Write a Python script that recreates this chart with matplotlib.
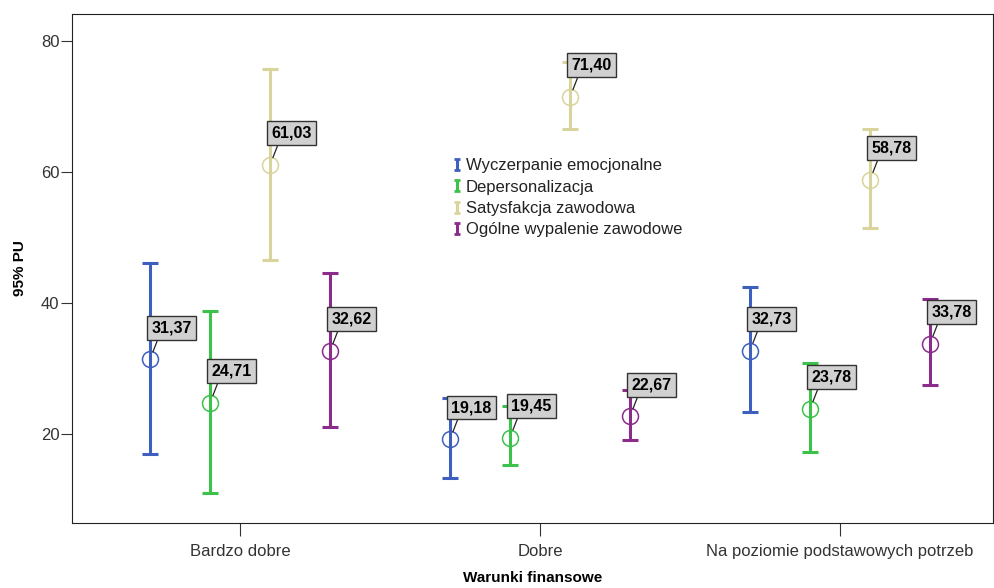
import matplotlib
matplotlib.use("Agg")
import matplotlib.pyplot as plt
from matplotlib.legend_handler import HandlerErrorbar
import numpy as np

plt.rcParams['font.family'] = ['Liberation Sans', 'DejaVu Sans']

# categories (x axis)
categories = ["Bardzo dobre", "Dobre", "Na poziomie podstawowych potrzeb"]
series = ["Wyczerpanie emocjonalne", "Depersonalizacja",
          "Satysfakcja zawodowa", "Ogólne wypalenie zawodowe"]
colors = ["#3f5fbf", "#3cc24a", "#d9d49b", "#8b2c8b"]

# means and 95% CI per series, in category order
means = [
    [31.37, 19.18, 32.73],
    [24.71, 19.45, 23.78],
    [61.03, 71.40, 58.78],
    [32.62, 22.67, 33.78],
]
ci_low = [
    [16.9, 13.3, 23.3],
    [11.0, 15.2, 17.2],
    [46.5, 66.6, 51.4],
    [21.0, 19.0, 27.4],
]
ci_high = [
    [46.1, 25.5, 42.5],
    [38.8, 24.2, 30.8],
    [75.7, 76.8, 66.5],
    [44.5, 26.7, 40.6],
]
offsets = [-0.3, -0.1, 0.1, 0.3]

fig = plt.figure(figsize=(9.94, 5.88), dpi=100)
ax = fig.add_axes([0.0724, 0.1105, 0.9266, 0.8656])

x = np.arange(len(categories))
handles = []
for i, name in enumerate(series):
    xs = x + offsets[i]
    m = np.array(means[i])
    lo = m - np.array(ci_low[i])
    hi = np.array(ci_high[i]) - m
    ax.errorbar(xs, m, yerr=[lo, hi], fmt='none', ecolor=colors[i],
                elinewidth=2.2, capsize=5.5, capthick=2.2, zorder=2)
    ax.plot(xs, m, 'o', mfc='none', mec=colors[i], ms=11.5, mew=1.1, zorder=3)
    # small proxy for the legend icon (nan -> not drawn)
    h = ax.errorbar([np.nan], [np.nan], yerr=[[1], [1]], fmt='none',
                    ecolor=colors[i], elinewidth=2.2, capsize=2.5,
                    capthick=2.0, label=name)
    handles.append(h)
    for xi, mi in zip(xs, m):
        ax.annotate(f"{mi:.2f}".replace(".", ","), xy=(xi, mi),
                    xytext=(1, 17.5), textcoords='offset points',
                    ha='left', va='bottom', fontsize=11.5, fontweight='bold',
                    bbox=dict(boxstyle='square,pad=0.28', fc='#d0d0d0',
                              ec='#333333', lw=1),
                    arrowprops=dict(arrowstyle='-', color='#222222', lw=0.9,
                                    relpos=(0.2, 0), shrinkA=0, shrinkB=5.8),
                    zorder=5)

ax.set_xlim(-0.56, 2.51)
ax.set_ylim(6.4, 84.1)
ax.set_xticks(x)
ax.set_xticklabels(categories, fontsize=12)
ax.set_yticks([20, 40, 60, 80])
ax.tick_params(axis='y', labelsize=12, length=8, pad=1, colors='#333333')
ax.tick_params(axis='x', length=9, pad=6, colors='#333333')
ax.set_xlabel("Warunki finansowe", fontsize=11, fontweight='bold', labelpad=9)
ax.set_ylabel("95% PU", fontsize=11, fontweight='bold', labelpad=10)
for s in ax.spines.values():
    s.set_color('#222222')

leg = ax.legend(handles=handles, loc='upper left', bbox_to_anchor=(0.405, 0.733),
                frameon=False, fontsize=12, handlelength=0.5,
                handletextpad=0.25, labelspacing=0.38, borderpad=0,
                handler_map={type(handles[0]): HandlerErrorbar(yerr_size=0.33)})
for t in leg.get_texts():
    t.set_color('#222222')

fig.savefig("out.png", dpi=100)
